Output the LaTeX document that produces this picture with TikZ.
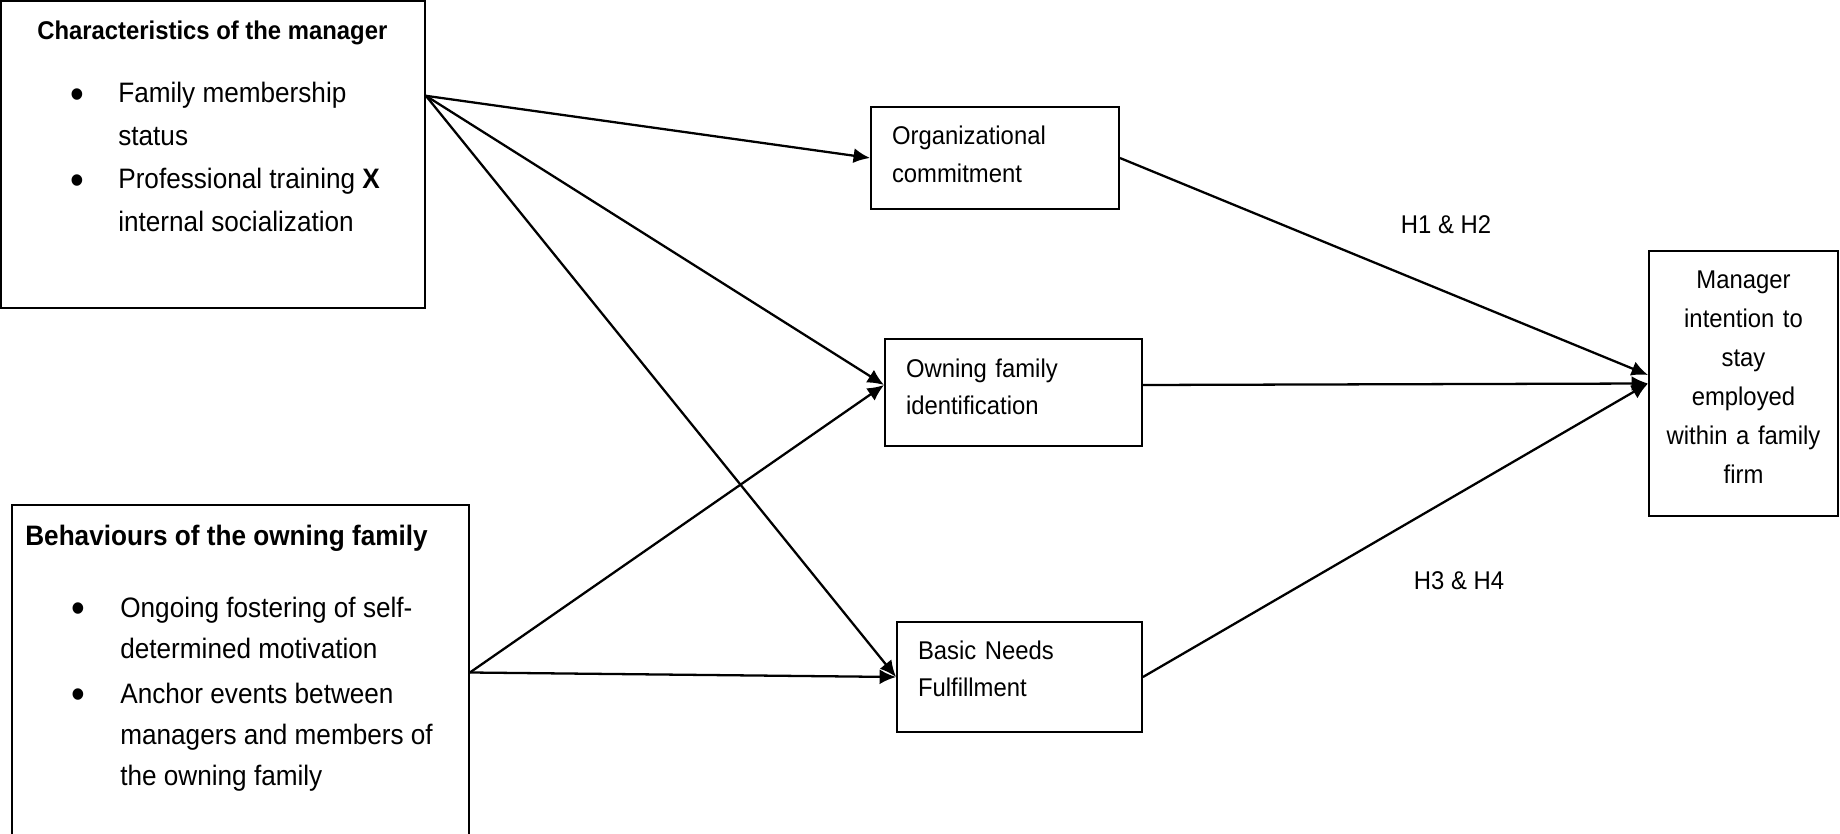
\documentclass[tikz,border=0pt]{standalone}
\usepackage{fontspec}
\setmainfont{Liberation Sans}[FakeStretch=0.93]
\usetikzlibrary{arrows.meta,calc}
\newcommand{\listdot}{\raisebox{-3.2pt}{\fontsize{24}{24}\selectfont\textbullet}}

\begin{document}
\begin{tikzpicture}[x=0.02cm, y=-0.02cm, >={Latex[length=3.3mm,width=3mm]},
outer/.style={draw, line width=1.1pt, inner sep=0pt},
midbox/.style={draw, line width=1.1pt, inner xsep=0.42cm, inner ysep=0pt, align=left, font=\fontsize{14.6}{21.6}\selectfont},
head/.style={inner sep=0pt, anchor=base west, font=\bfseries},
items/.style={inner sep=0pt, anchor=base west},
hyp/.style={inner sep=0pt, font=\fontsize{14.6}{18}\selectfont},
link/.style={->, line width=1.3pt}]
\useasboundingbox (0,0) rectangle (1840,834);

% left boxes
\node[outer, minimum width=8.48cm, minimum height=6.14cm] (char) at (213,154.5) {};
\node[head, font=\bfseries\fontsize{14.6}{18}\selectfont] (chartitle) at (37,40) {Characteristics of the manager};
\node[items, font=\fontsize{16}{24.3}\selectfont] (charlist) at (70,103) {%
\begin{tabular}[t]{@{}p{0.96cm}@{}l@{}}
\listdot & Family membership\\
 & status\\
\listdot & Professional training \textbf{X}\\
 & internal socialization
\end{tabular}};

\node[outer, minimum width=9.14cm, minimum height=6.7cm] (behav) at (240.5,672.5) {};
\node[head, font=\bfseries\fontsize{16}{20}\selectfont] (behavtitle) at (25,545) {Behaviours of the owning family};
\node[items, font=\fontsize{16}{23.5}\selectfont] (behavlist) at (71,617) {%
\begin{tabular}[t]{@{}p{0.98cm}@{}l@{}}
\listdot & Ongoing fostering of self-\\
 & determined motivation\\[2pt]
\listdot & Anchor events between\\
 & managers and members of\\
 & the owning family
\end{tabular}};

% mediators
\node[midbox, text width=4.12cm, text height=0.76cm, text depth=1.28cm] (org) at (995,158) {Organizational\\commitment};
\node[midbox, text width=4.30cm, text height=0.76cm, text depth=1.38cm] (own) at (1013.5,392.5) {Owning family\\identification};
\node[midbox, text width=4.06cm, text height=0.74cm, text depth=1.46cm] (basic) at (1019.5,677) {Basic Needs\\Fulfillment};

% outcome
\node[outer, text width=3.78cm, text height=0.74cm, text depth=4.56cm, align=center, font=\fontsize{14.6}{22.3}\selectfont] (mgr) at (1743.5,383.5) {Manager\\intention to\\stay\\employed\\within a family\\firm};

\node[hyp] (h12) at (1446,225) {H1 \& H2};
\node[hyp] (h34) at (1459,581) {H3 \& H4};

\coordinate (charout) at ($(char.north east)!0.31!(char.south east)$);
\draw[link] (charout) -- (org.west);
\draw[link] (charout) -- ([yshift=0.15cm]own.west);
\draw[link] (charout) -- (basic.west);
\draw[link] (behav.east) -- ([yshift=0.15cm]own.west);
\draw[link] (behav.east) -- (basic.west);
\draw[link] (org.east) -- ([yshift=0.17cm]mgr.west);
\draw[link] ([yshift=0.15cm]own.east) -- (mgr.west);
\draw[link] (basic.east) -- (mgr.west);
\end{tikzpicture}
\end{document}
